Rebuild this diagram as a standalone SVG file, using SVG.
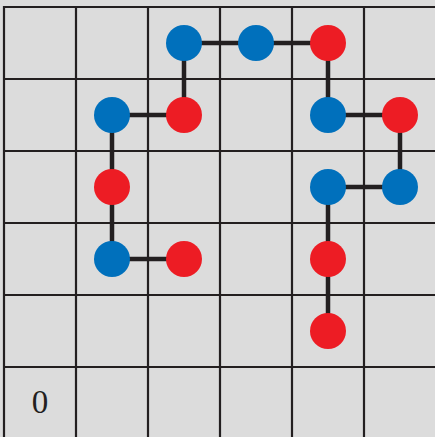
<svg xmlns="http://www.w3.org/2000/svg" width="435" height="437" viewBox="0 0 435 437">
<style>
.grid line{stroke:#231f20;stroke-width:2.2}
.edges line{stroke:#231f20;stroke-width:4.5}
.b{fill:#0070bc}
.r{fill:#ed1c24}
.lbl{font-family:"Liberation Serif",serif;font-size:33px;fill:#231f20;text-anchor:middle}
</style>
<rect x="0" y="0" width="435" height="437" fill="#dcdcdc"/>
<g class="grid" id="grid">
<line x1="3" y1="7" x2="435" y2="7"/>
<line x1="3" y1="79" x2="435" y2="79"/>
<line x1="3" y1="151" x2="435" y2="151"/>
<line x1="3" y1="223" x2="435" y2="223"/>
<line x1="3" y1="295" x2="435" y2="295"/>
<line x1="3" y1="367" x2="435" y2="367"/>
<line x1="4" y1="6" x2="4" y2="437"/>
<line x1="76" y1="6" x2="76" y2="437"/>
<line x1="148" y1="6" x2="148" y2="437"/>
<line x1="220" y1="6" x2="220" y2="437"/>
<line x1="292" y1="6" x2="292" y2="437"/>
<line x1="364" y1="6" x2="364" y2="437"/>
</g>
<g class="edges" id="connectors">
<line x1="184" y1="43" x2="328" y2="43"/>
<line x1="184" y1="43" x2="184" y2="115"/>
<line x1="112" y1="115" x2="184" y2="115"/>
<line x1="112" y1="115" x2="112" y2="259"/>
<line x1="112" y1="259" x2="184" y2="259"/>
<line x1="328" y1="43" x2="328" y2="115"/>
<line x1="328" y1="115" x2="400" y2="115"/>
<line x1="400" y1="115" x2="400" y2="187"/>
<line x1="328" y1="187" x2="400" y2="187"/>
<line x1="328" y1="187" x2="328" y2="331"/>
</g>
<g id="n1"><circle class="b" cx="184" cy="43" r="18"/></g>
<g id="n2"><circle class="b" cx="256" cy="43" r="18"/></g>
<g id="n3"><circle class="r" cx="328" cy="43" r="18"/></g>
<g id="n4"><circle class="b" cx="112" cy="115" r="18"/></g>
<g id="n5"><circle class="r" cx="184" cy="115" r="18"/></g>
<g id="n6"><circle class="b" cx="328" cy="115" r="18"/></g>
<g id="n7"><circle class="r" cx="400" cy="115" r="18"/></g>
<g id="n8"><circle class="r" cx="112" cy="187" r="18"/></g>
<g id="n9"><circle class="b" cx="328" cy="187" r="18"/></g>
<g id="n10"><circle class="b" cx="400" cy="187" r="18"/></g>
<g id="n11"><circle class="b" cx="112" cy="259" r="18"/></g>
<g id="n12"><circle class="r" cx="184" cy="259" r="18"/></g>
<g id="n13"><circle class="r" cx="328" cy="259" r="18"/></g>
<g id="n14"><circle class="r" cx="328" cy="331" r="18"/></g>
<g id="label"><text class="lbl" x="40" y="413">0</text></g>
</svg>
